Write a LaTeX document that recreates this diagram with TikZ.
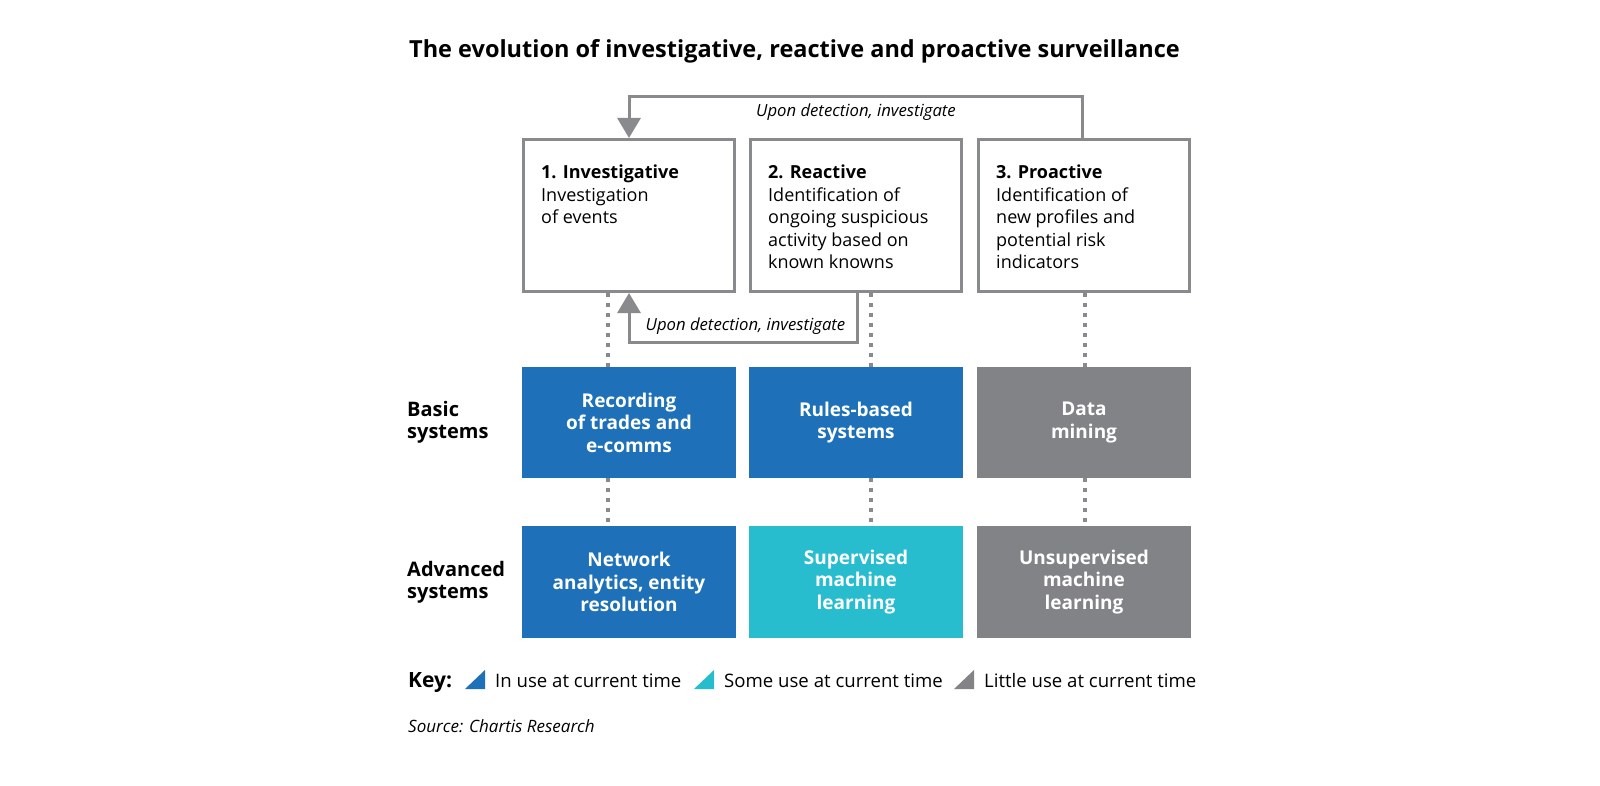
\documentclass[tikz,border=0pt]{standalone}
\usepackage{fontspec}
\setmainfont{Open Sans}
\usetikzlibrary{arrows.meta}

\definecolor{chblue}{RGB}{30,113,184}
\definecolor{chcyan}{RGB}{39,189,207}
\definecolor{chgrey}{RGB}{130,131,135}
\definecolor{chline}{RGB}{137,138,141}

\tikzset{
  stage/.style={draw=chline, line width=3pt, minimum width=211pt, minimum height=152pt},
  stagetext/.style={anchor=north west, align=left, inner sep=0pt, font=\fontsize{18}{22.5}\selectfont},
  system/.style={text=white, align=center, inner sep=0pt, minimum width=214pt, font=\bfseries\fontsize{19}{22.5}\selectfont},
  rowlabel/.style={anchor=west, align=left, inner sep=0pt, font=\bfseries\fontsize{20}{22}\selectfont},
  feedback/.style={draw=chline, line width=3pt, -{Triangle[width=23pt,length=20pt]}},
  note/.style={anchor=base, inner sep=0pt, font=\itshape\fontsize{16.7}{18}\selectfont},
  dots/.style={draw=chline, line width=3.5pt, dash pattern=on 4pt off 6pt},
  keytext/.style={anchor=base west, inner sep=0pt, font=\fontsize{18.6}{22}\selectfont},
}

\begin{document}
\begin{tikzpicture}[x=1pt, y=-1pt]
    \useasboundingbox (0,0) rectangle (1600,786);

    \node[anchor=base, font=\bfseries\fontsize{23.5}{26}\selectfont] (title) at (794.5,58)
        {The evolution of investigative, reactive and proactive surveillance};

    % stages
    \node[stage] (inv) at (629,215.5) {};
    \node[stage] (rea) at (856,215.5) {};
    \node[stage] (pro) at (1084,215.5) {};
    \node[stagetext] (invtext) at ([shift={(19pt,-27pt)}]inv.north west) {\textbf{1. Investigative}\\Investigation\\of events};
    \node[stagetext] (reatext) at ([shift={(19pt,-27pt)}]rea.north west) {\textbf{2. Reactive}\\Identification of\\ongoing suspicious\\activity based on\\known knowns};
    \node[stagetext] (protext) at ([shift={(19pt,-27pt)}]pro.north west) {\textbf{3. Proactive}\\Identification of\\new profiles and\\potential risk\\indicators};

    % systems
    \node[system, fill=chblue, minimum height=111pt] (rec) at (629,422.5) {Recording\\of trades and\\e-comms};
    \node[system, fill=chblue, minimum height=111pt] (rul) at (856,422.5) {Rules-based\\systems};
    \node[system, fill=chgrey, minimum height=111pt] (dat) at (1084,422.5) {Data\\mining};
    \node[system, fill=chblue, minimum height=112pt] (net) at (629,582) {Network\\analytics, entity\\resolution};
    \node[system, fill=chcyan, minimum height=112pt] (sup) at (856,582) {Supervised\\machine\\learning};
    \node[system, fill=chgrey, minimum height=112pt] (uns) at (1084,582) {Unsupervised\\machine\\learning};

    \node[rowlabel] (basic) at (407,422.5) {Basic\\systems};
    \node[rowlabel] (advanced) at (407,582) {Advanced\\systems};

    % links
    \draw[dots] ([xshift=-21pt]inv.south) -- ([xshift=-21pt]rec.north);
    \draw[dots] ([xshift=-21pt]rec.south) -- ([xshift=-21pt]net.north);
    \draw[dots] ([xshift=15pt]rea.south) -- ([xshift=15pt]rul.north);
    \draw[dots] ([xshift=15pt]rul.south) -- ([xshift=15pt]sup.north);
    \draw[dots] ([xshift=1pt]pro.south) -- ([xshift=1pt]dat.north);
    \draw[dots] ([xshift=1pt]dat.south) -- ([xshift=1pt]uns.north);

    \draw[feedback] ([xshift=-2pt]pro.north) -- ++(0,-41) -| (inv.north);
    \draw[feedback] ([xshift=1pt]rea.south) -- ++(0,49) -| (inv.south);
    \node[note] (topnote) at (856,117) {Upon detection, investigate};
    \node[note] (lownote) at (745.5,330) {Upon detection, investigate};

    % key
    \node[anchor=base west, inner sep=0pt, font=\bfseries\fontsize{21}{24}\selectfont] (key) at (408,687) {Key:};
    \foreach \xk/\col/\txt [count=\i] in {465/chblue/In use at current time, 694/chcyan/Some use at current time, 954/chgrey/Little use at current time}{
        \fill[\col] (\xk,689) -- ++(20,0) -- ++(0,-19) -- cycle;
        \node[keytext] (key\i) at (\xk+30,687) {\txt};
    }

    \node[anchor=base west, inner sep=0pt, font=\itshape\fontsize{17}{20}\selectfont] (source) at (408,732) {Source: Chartis Research};
\end{tikzpicture}
\end{document}
